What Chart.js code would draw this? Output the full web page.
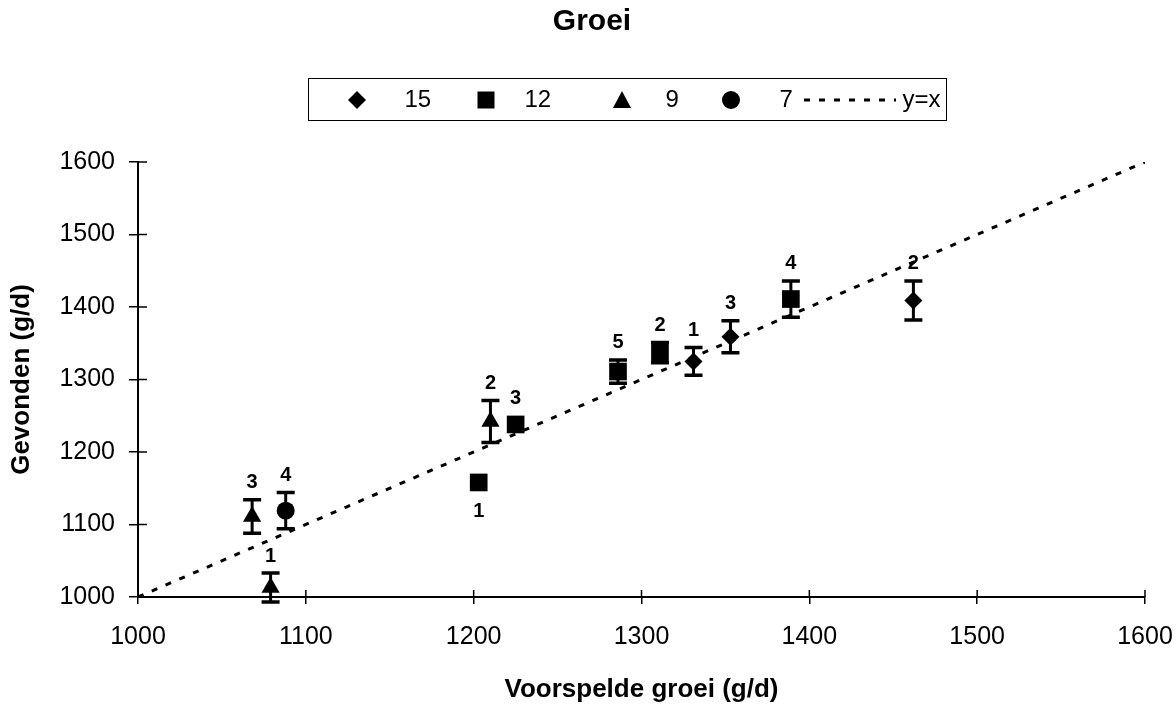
<!DOCTYPE html>
<html>
<head>
<meta charset="utf-8">
<script src="https://cdn.jsdelivr.net/npm/chart.js@4.4.1/dist/chart.umd.min.js"></script>
<style>
  body { margin: 0; background: #fff; font-family: "Liberation Sans", Arial, sans-serif; }
  #wrap { position: relative; width: 1176px; height: 707px; }
  #title { position: absolute; left: 592px; top: 5px; transform: translateX(-50%);
           font-weight: bold; font-size: 30px; line-height: 30px; white-space: nowrap; }
  #legend { position: absolute; left: 308px; top: 78px; width: 639px; height: 43px;
            border: 1.5px solid #000; box-sizing: border-box; }
  #legend span { position: absolute; top: 0; font-size: 24px; line-height: 40px; white-space: nowrap; }
  #legend svg { position: absolute; }
</style>
</head>
<body>
<div id="wrap">
  <canvas id="groeiChart" width="1176" height="707"></canvas>
  <div id="title">Groei</div>
  <div id="legend"></div>
</div>
<script>
// series names (number of the group), as in the legend
const seriesNames = ['15', '12', '9', '7'];

// series 15 (diamond)
const x15 = [1331, 1353, 1462];
const y15 = [1325, 1359, 1409];
const err15 = [19, 22, 27];
const lab15 = ['1', '3', '2'];

// series 12 (square)
const x12 = [1203, 1225, 1286, 1311, 1389];
const y12 = [1158, 1238, 1311, 1337, 1411];
const err12 = [0, 0, 16, 14, 25];
const lab12 = ['1', '3', '5', '2', '4'];

// series 9 (triangle)
const x9 = [1068, 1079, 1210];
const y9 = [1111, 1013, 1242];
const err9 = [23, 20, 29];
const lab9 = ['3', '1', '2'];

// series 7 (circle)
const x7 = [1088];
const y7 = [1119];
const err7 = [25];
const lab7 = ['4'];

// y = x reference line
const lineX = [1000, 1600];
const lineName = 'y=x';

// axis ticks
const axisMin = 1000;
const axisMax = 1600;
const tickStep = 100;

const FONT = '"Liberation Sans", Arial, sans-serif';

function pts(xs, ys) {
  return xs.map((v, i) => ({ x: v, y: ys[i] }));
}

// labels that sit under the marker instead of above
const labelsBelow = { '12': ['1'] };

// error bars, drawn under the markers
const errorBars = {
  id: 'errorBars',
  beforeDatasetsDraw(chart) {
    const { ctx, scales: { x, y } } = chart;
    ctx.save();
    ctx.strokeStyle = '#000';
    chart.data.datasets.forEach(ds => {
      if (!ds.errors) return;
      ds.data.forEach((p, j) => {
        const e = ds.errors[j];
        if (!e) return;
        const px = x.getPixelForValue(p.x);
        const top = y.getPixelForValue(p.y + e);
        const bot = y.getPixelForValue(p.y - e);
        ctx.lineWidth = 3;
        ctx.beginPath();
        ctx.moveTo(px, top); ctx.lineTo(px, bot);
        ctx.stroke();
        ctx.lineWidth = 3.5;
        ctx.beginPath();
        ctx.moveTo(px - 9, top); ctx.lineTo(px + 9, top);
        ctx.moveTo(px - 9, bot); ctx.lineTo(px + 9, bot);
        ctx.stroke();
      });
    });
    ctx.restore();
  }
};

// the small numbers next to each point
const pointLabels = {
  id: 'pointLabels',
  afterDatasetsDraw(chart) {
    const { ctx, scales: { x, y } } = chart;
    ctx.save();
    ctx.fillStyle = '#000';
    ctx.font = 'bold 20px ' + FONT;
    ctx.textAlign = 'center';
    ctx.textBaseline = 'middle';
    chart.data.datasets.forEach(ds => {
      if (!ds.pointTexts) return;
      const below = labelsBelow[ds.label] || [];
      ds.data.forEach((p, j) => {
        const txt = ds.pointTexts[j];
        const px = x.getPixelForValue(p.x);
        const py = y.getPixelForValue(p.y);
        if (below.includes(txt)) {
          ctx.fillText(txt, px, py + 29);
        } else {
          const top = Math.min(y.getPixelForValue(p.y + (ds.errors[j] || 0)), py - 9);
          ctx.fillText(txt, px, top - 17);
        }
      });
    });
    ctx.restore();
  }
};

// tick marks that also cross into the plot area
const crossTicks = {
  id: 'crossTicks',
  afterDraw(chart) {
    const { ctx, chartArea, scales: { x, y } } = chart;
    ctx.save();
    ctx.strokeStyle = '#000';
    ctx.lineWidth = 1.5;
    ctx.beginPath();
    x.ticks.forEach(t => {
      const px = x.getPixelForValue(t.value);
      ctx.moveTo(px, chartArea.bottom);
      ctx.lineTo(px, chartArea.bottom - 7);
    });
    y.ticks.forEach(t => {
      const py = y.getPixelForValue(t.value);
      ctx.moveTo(chartArea.left, py);
      ctx.lineTo(chartArea.left + 9, py);
    });
    ctx.stroke();
    ctx.restore();
  }
};

const markers = ['rectRot', 'rect', 'triangle', 'circle'];
const radii = [9, 12.5, 10.5, 9];
const xs = [x15, x12, x9, x7];
const ys = [y15, y12, y9, y7];
const errs = [err15, err12, err9, err7];
const labs = [lab15, lab12, lab9, lab7];

const datasets = seriesNames.map((name, i) => ({
  type: 'scatter',
  label: name,
  data: pts(xs[i], ys[i]),
  errors: errs[i],
  pointTexts: labs[i],
  pointStyle: markers[i],
  pointRadius: radii[i],
  pointHoverRadius: radii[i],
  backgroundColor: '#000',
  borderColor: '#000',
  borderWidth: 0
}));

datasets.push({
  type: 'line',
  label: lineName,
  data: pts(lineX, lineX),
  borderColor: '#000',
  borderWidth: 3,
  borderDash: [6, 9],
  pointRadius: 0,
  fill: false
});

const plainTick = v => String(v);

new Chart(document.getElementById('groeiChart'), {
  type: 'scatter',
  data: { datasets },
  options: {
    responsive: false,
    animation: false,
    layout: { padding: { top: 162, right: 31, bottom: 0, left: 0 } },
    plugins: {
      legend: { display: false },
      tooltip: { enabled: false },
      title: { display: false }
    },
    scales: {
      x: {
        type: 'linear',
        position: 'bottom',
        min: axisMin,
        max: axisMax,
        ticks: { stepSize: tickStep, color: '#000', padding: 18, font: { family: FONT, size: 25 }, callback: plainTick },
        grid: { drawOnChartArea: false, tickLength: 7, color: '#000', lineWidth: 1.5 },
        border: { color: '#000', width: 2 },
        title: {
          display: true, text: 'Voorspelde groei (g/d)', color: '#000',
          font: { family: FONT, size: 26, weight: 'bold' }, padding: { top: 0, bottom: 2 }
        },
        afterFit(scale) {
          scale.height = 110;
          scale.paddingRight = 28;
          scale.paddingLeft = 0;
        }
      },
      y: {
        min: axisMin,
        max: axisMax,
        ticks: { stepSize: tickStep, color: '#000', padding: 14, font: { family: FONT, size: 25 }, callback: plainTick },
        grid: { drawOnChartArea: false, tickLength: 9, color: '#000', lineWidth: 1.5 },
        border: { color: '#000', width: 2 },
        title: {
          display: true, text: 'Gevonden (g/d)', color: '#000',
          font: { family: FONT, size: 26, weight: 'bold' }, padding: { top: 6, bottom: 0 }
        },
        afterFit(scale) { scale.width = 138; }
      }
    }
  },
  plugins: [errorBars, pointLabels, crossTicks]
});

// legend box, built from the series names
const legendLayout = [
  { shape: 'diamond', mark: 357, text: 405 },
  { shape: 'square', mark: 486, text: 525 },
  { shape: 'triangle', mark: 622, text: 666 },
  { shape: 'circle', mark: 731, text: 780 },
  { shape: 'dash', mark: 850, text: 903 }
];
const shapes = {
  diamond: '<polygon points="9,0 18,9 9,18 0,9" fill="#000"/>',
  square: '<rect x="0.5" y="0.5" width="17" height="17" fill="#000"/>',
  triangle: '<polygon points="9,0 18,17 0,17" fill="#000"/>',
  circle: '<circle cx="9" cy="9" r="9" fill="#000"/>'
};
const legend = document.getElementById('legend');
const boxLeft = 308 + 1.5;
const legendNames = seriesNames.concat([lineName]);
legendLayout.forEach((item, i) => {
  const svg = document.createElementNS('http://www.w3.org/2000/svg', 'svg');
  if (item.shape === 'dash') {
    svg.setAttribute('width', 92); svg.setAttribute('height', 6);
    svg.style.left = (804 - boxLeft) + 'px';
    svg.style.top = '18px';
    svg.innerHTML = '<line x1="0" y1="3" x2="92" y2="3" stroke="#000" stroke-width="3" stroke-dasharray="6 9"/>';
  } else {
    svg.setAttribute('width', 18); svg.setAttribute('height', 18);
    svg.style.left = (item.mark - 9 - boxLeft) + 'px';
    svg.style.top = '12px';
    svg.innerHTML = shapes[item.shape];
  }
  legend.appendChild(svg);
  const span = document.createElement('span');
  span.textContent = legendNames[i];
  span.style.left = (item.text - boxLeft) + 'px';
  legend.appendChild(span);
});
</script>
</body>
</html>
